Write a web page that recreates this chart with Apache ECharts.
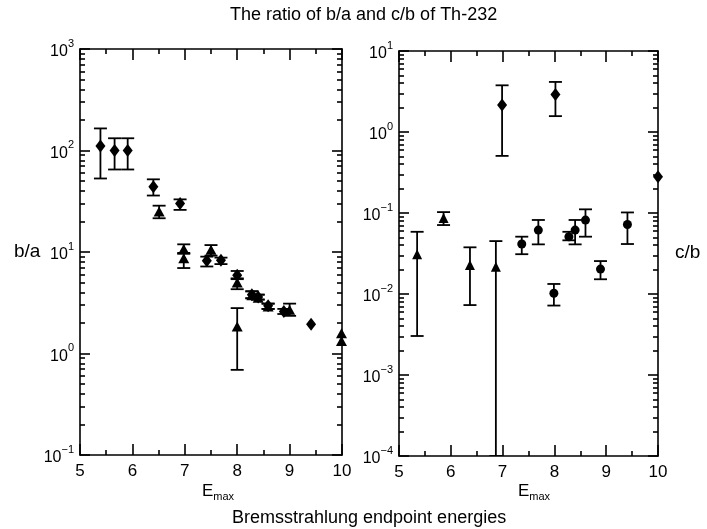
<!DOCTYPE html>
<html><head><meta charset="utf-8">
<script src="https://cdn.jsdelivr.net/npm/echarts@6/dist/echarts.min.js"></script>
<style>html,body{margin:0;padding:0;background:#fff}#c{width:707px;height:529px}</style>
</head><body><div id="c"></div>
<script>
// ---- axis tick data ----
const xMin = 5, xMax = 10;
const leftDecades = [0.1, 1, 10, 100, 1000];
const rightDecades = [0.0001, 0.001, 0.01, 0.1, 1, 10];
const minorMultipliers = [2, 3, 4, 5, 6, 7, 8, 9];

// ---- left panel: b/a ----
const baDiamondE   = [5.39, 5.66, 5.91, 6.40, 6.91, 7.42, 7.69, 8.00, 8.28, 8.40, 8.59, 8.89, 9.41];
const baDiamondVal = [111, 100, 100, 44, 30, 8.2, 8.3, 5.9, 3.8, 3.6, 2.95, 2.6, 1.94];
const baDiamondLo  = [53, 65, 65, 36, 26, 7.2, 7.6, 5.4, 3.5, 3.4, 2.75, 2.45, null];
const baDiamondHi  = [165, 132, 132, 52, 33, 9.0, 8.8, 6.5, 4.1, 3.8, 3.1, 2.75, null];

const baTriE   = [6.51, 6.98, 6.98, 7.50, 8.00, 8.00, 8.28, 8.40, 8.59, 9.00, 9.99, 9.99];
const baTriVal = [25, 10.7, 8.7, 10.5, 5.0, 1.84, 3.75, 3.55, 2.9, 2.7, 1.58, 1.33];
const baTriLo  = [21.5, 9.6, 6.95, 9.2, 4.3, 0.69, 3.5, 3.4, 2.75, 2.35, null, null];
const baTriHi  = [28.6, 11.9, 9.8, 11.7, 5.5, 2.8, 4.1, 3.8, 3.1, 3.1, null, null];

// ---- right panel: c/b ----
const cbCircE   = [7.37, 7.69, 7.99, 8.28, 8.40, 8.60, 8.89, 9.41];
const cbCircVal = [0.0414, 0.0615, 0.0102, 0.0509, 0.0615, 0.0817, 0.0203, 0.0722];
const cbCircLo  = [0.031, 0.041, 0.0072, 0.046, 0.041, 0.051, 0.0152, 0.0414];
const cbCircHi  = [0.051, 0.082, 0.0133, 0.0586, 0.082, 0.111, 0.0255, 0.1016];

const cbTriE   = [5.35, 5.86, 6.37, 6.87];
const cbTriVal = [0.031, 0.087, 0.0228, 0.0217];
const cbTriLo  = [0.00303, 0.071, 0.0073, 0.0001];
const cbTriHi  = [0.0586, 0.1026, 0.0377, 0.045];

const cbDiamondE   = [6.99, 8.02, 10.0];
const cbDiamondVal = [2.16, 2.9, 0.28];
const cbDiamondLo  = [0.507, 1.57, null];
const cbDiamondHi  = [3.77, 4.15, null];

// ---- build ----
function minorList(decades) {
  const out = [];
  decades.slice(0, -1).forEach(d => minorMultipliers.forEach(m => out.push(+(d * m).toPrecision(6))));
  return out;
}
const FONT = 'Liberation Sans, Arial, sans-serif';
const black = '#000';
function supLabel(v) {
  const e = Math.round(Math.log10(v));
  return '{b|10}{s|' + (e < 0 ? '\u2212' + (-e) : e) + '}';
}
const labelRich = {
  b: {fontSize: 16, fontFamily: FONT, color: black, verticalAlign: 'bottom', lineHeight: 22},
  s: {fontSize: 11, fontFamily: FONT, color: black, verticalAlign: 'top', lineHeight: 22, padding: [0, 0, 6, 0]}
};

function xAxes(g) {
  const base = {
    gridIndex: g, type: 'value', min: xMin, max: xMax, interval: 1,
    splitLine: {show: false},
    axisLine: {show: true, onZero: false, lineStyle: {color: black, width: 1.6}},
    axisTick: {show: true, inside: true, length: 11, lineStyle: {color: black, width: 1.6}},
    minorTick: {show: true, splitNumber: 2, length: 5, lineStyle: {color: black, width: 1.6}}
  };
  return [
    Object.assign({}, base, {
      position: 'bottom',
      axisLabel: {fontSize: 17, fontFamily: FONT, color: black, margin: 8}
    }),
    Object.assign({}, base, {position: 'top', axisLabel: {show: false}})
  ];
}
function yAxes(g, decades) {
  const base = {
    gridIndex: g, type: 'log', logBase: 10, min: decades[0], max: decades[decades.length - 1],
    splitLine: {show: false}, minorTick: {show: false}
  };
  const major = pos => Object.assign({}, base, {
    position: pos,
    axisLine: {show: true, lineStyle: {color: black, width: 1.6}},
    axisTick: {show: true, inside: true, length: 10, customValues: decades, lineStyle: {color: black, width: 1.6}},
    axisLabel: pos === 'left'
      ? {show: true, customValues: decades, formatter: supLabel, rich: labelRich, margin: 6}
      : {show: false}
  });
  const minor = pos => Object.assign({}, base, {
    position: pos,
    axisLine: {show: false},
    axisTick: {show: true, inside: true, length: 5, customValues: minorList(decades), lineStyle: {color: black, width: 1.6}},
    axisLabel: {show: false}
  });
  return [major('left'), minor('left'), major('right'), minor('right')];
}

function scatter(E, V, xi, yi, symbol, size) {
  return {
    type: 'scatter', xAxisIndex: xi, yAxisIndex: yi, symbol, symbolSize: size,
    itemStyle: {color: black, opacity: 1}, silent: true, z: 5,
    data: E.map((e, i) => [e, V[i]])
  };
}
function errBars(E, lo, hi, xi, yi) {
  const data = [];
  E.forEach((e, i) => { if (lo[i] != null) data.push([e, lo[i], hi[i]]); });
  return {
    type: 'custom', xAxisIndex: xi, yAxisIndex: yi, silent: true, clip: true, z: 4,
    data, encode: {x: 0, y: [1, 2]},
    renderItem(params, api) {
      const x = api.value(0);
      const top = api.coord([x, api.value(2)]);
      const bot = api.coord([x, api.value(1)]);
      const w = 6.5;
      const style = {stroke: black, lineWidth: 1.8};
      return {type: 'group', children: [
        {type: 'line', shape: {x1: top[0], y1: top[1], x2: bot[0], y2: bot[1]}, style},
        {type: 'line', shape: {x1: top[0] - w, y1: top[1], x2: top[0] + w, y2: top[1]}, style},
        {type: 'line', shape: {x1: bot[0] - w, y1: bot[1], x2: bot[0] + w, y2: bot[1]}, style}
      ]};
    }
  };
}

const emaxRich = {
  e: {fontSize: 17, fontFamily: FONT, fill: black, color: black},
  m: {fontSize: 11, fontFamily: FONT, fill: black, color: black, padding: [10, 0, 0, 0]}
};

const chart = echarts.init(document.getElementById('c'), null, {renderer: 'canvas'});
chart.setOption({
  backgroundColor: '#fff',
  animation: false,
  graphic: [
    {type: 'text', left: 230, top: 6, style: {text: 'The ratio of b/a and c/b of Th-232', fontSize: 18, fontFamily: FONT, fill: black}},
    {type: 'text', left: 232, top: 509, style: {text: 'Bremsstrahlung endpoint energies', fontSize: 18, fontFamily: FONT, fill: black}},
    {type: 'text', left: 14, top: 242, style: {text: 'b/a', fontSize: 19, fontFamily: FONT, fill: black}},
    {type: 'text', left: 675, top: 243, style: {text: 'c/b', fontSize: 19, fontFamily: FONT, fill: black}},
    {type: 'text', left: 202, top: 483, style: {text: '{e|E}{m|max}', rich: emaxRich}},
    {type: 'text', left: 518, top: 483, style: {text: '{e|E}{m|max}', rich: emaxRich}}
  ],
  grid: [
    {left: 80, top: 49, width: 262, height: 406},
    {left: 399, top: 51, width: 259, height: 405}
  ],
  xAxis: [...xAxes(0), ...xAxes(1)],
  yAxis: [...yAxes(0, leftDecades), ...yAxes(1, rightDecades)],
  series: [
    errBars(baDiamondE, baDiamondLo, baDiamondHi, 0, 0),
    errBars(baTriE, baTriLo, baTriHi, 0, 0),
    scatter(baDiamondE, baDiamondVal, 0, 0, 'diamond', [10, 13]),
    scatter(baTriE, baTriVal, 0, 0, 'triangle', [11, 10]),
    errBars(cbCircE, cbCircLo, cbCircHi, 2, 4),
    errBars(cbTriE, cbTriLo, cbTriHi, 2, 4),
    errBars(cbDiamondE, cbDiamondLo, cbDiamondHi, 2, 4),
    scatter(cbCircE, cbCircVal, 2, 4, 'circle', 9),
    scatter(cbTriE, cbTriVal, 2, 4, 'triangle', [10, 10]),
    scatter(cbDiamondE, cbDiamondVal, 2, 4, 'diamond', [10, 13])
  ]
});
</script></body></html>
